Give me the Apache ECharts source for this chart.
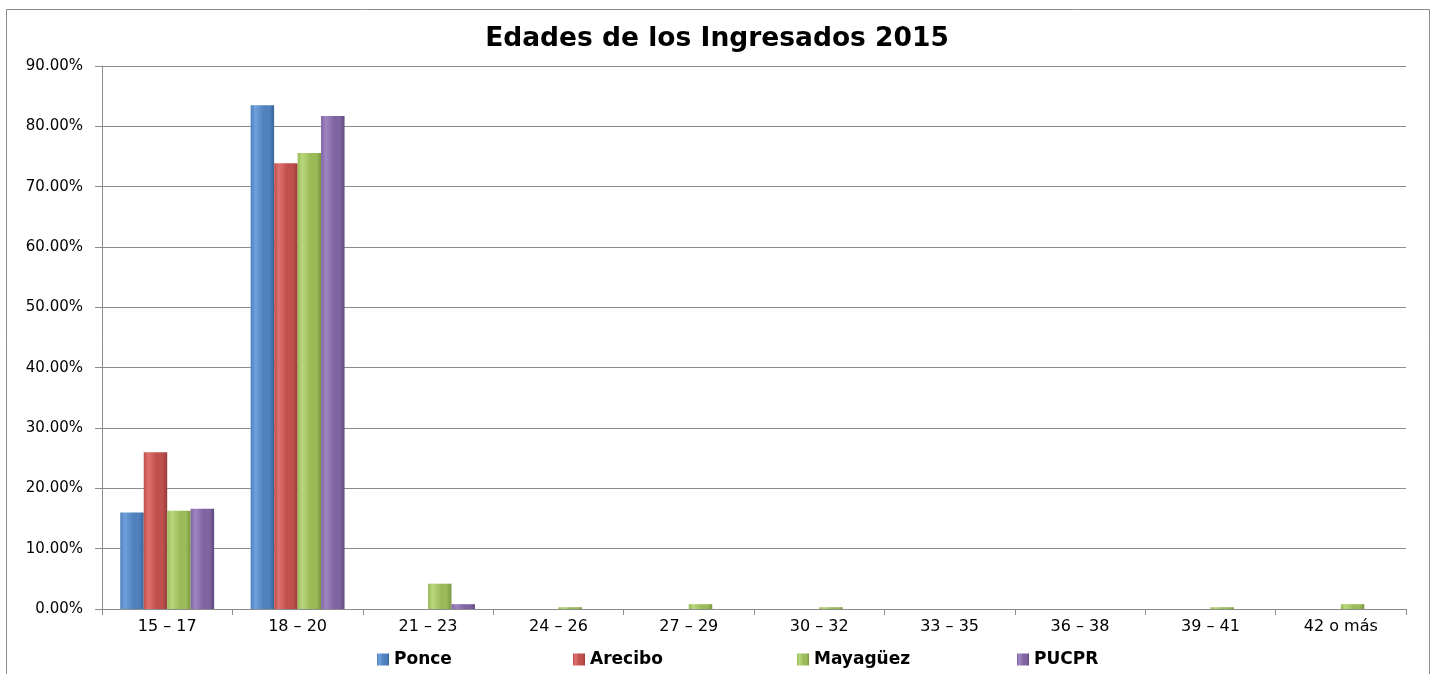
<!DOCTYPE html>
<html><head><meta charset="utf-8">
<script src="https://cdn.jsdelivr.net/npm/echarts@6/dist/echarts.min.js"></script>
<style>html,body{margin:0;padding:0;background:#fff}#c{width:1434px;height:674px}</style>
</head><body><div id="c"></div>
<script>
const categories = ['15 – 17','18 – 20','21 – 23','24 – 26','27 – 29','30 – 32','33 – 35','36 – 38','39 – 41','42 o más'];
const ponce    = [16.0, 83.5, 0, 0, 0, 0, 0, 0, 0, 0];
const arecibo  = [26.0, 73.9, 0, 0, 0, 0, 0, 0, 0, 0];
const mayaguez = [16.3, 75.6, 4.2, 0.3, 0.8, 0.3, 0, 0, 0.3, 0.8];
const pucpr    = [16.6, 81.7, 0.8, 0, 0, 0, 0, 0, 0, 0];
const seriesNames = ['Ponce','Arecibo','Mayagüez','PUCPR'];

const palette = [
  ['#6fa0dc','#4f81bd','#3a6597'],
  ['#de706d','#c0504d','#983b39'],
  ['#b8d77c','#9bbb59','#7a9640'],
  ['#9e86c1','#8064a2','#5f4a7d']
];
function grad(p){
  return {type:'linear',x:0,y:0,x2:1,y2:0,colorStops:[
    {offset:0,color:p[1]},{offset:0.2,color:p[0]},{offset:0.55,color:p[1]},{offset:0.8,color:p[1]},{offset:1,color:p[2]}]};
}
const dataSets = [ponce, arecibo, mayaguez, pucpr];
const legendLeft = [372, 568, 792, 1012];
const font = '"DejaVu Sans", Verdana, sans-serif';

const chart = echarts.init(document.getElementById('c'), null, {renderer:'canvas'});
chart.setOption({
  animation:false,
  title:{text:'Edades de los Ingresados 2015', left:'center', top:21,
    textStyle:{fontFamily:font, fontWeight:'bold', fontSize:26.5, color:'#000'}},
  legend: seriesNames.map((n,i)=>({data:[n], left:legendLeft[i], top:646, itemWidth:12, itemHeight:12, itemGap:0,
    icon:'rect', textStyle:{fontFamily:font, fontWeight:'bold', fontSize:17, color:'#000'}})),
  graphic:[{type:'rect', shape:{x:6.5,y:9.5,width:1423,height:680}, style:{fill:'none', stroke:'#8c8c8c', lineWidth:1}, silent:true}],
  grid:{left:102, right:28, top:66, bottom:65},
  xAxis:{type:'category', data:categories,
    axisLine:{lineStyle:{color:'#8c8c8c'}},
    axisTick:{show:true, length:6, lineStyle:{color:'#8c8c8c'}},
    axisLabel:{fontFamily:font, fontSize:16, color:'#000', margin:10}},
  yAxis:{type:'value', min:0, max:90, interval:10,
    axisLine:{show:true, lineStyle:{color:'#8c8c8c'}},
    axisTick:{show:true, length:7, lineStyle:{color:'#8c8c8c'}},
    splitLine:{lineStyle:{color:'#8c8c8c'}},
    axisLabel:{fontFamily:font, fontSize:15, color:'#000', margin:19, formatter:v=>v.toFixed(2)+'%'}},
  series: dataSets.map((d,i)=>({
    name:seriesNames[i], type:'bar', data:d, barGap:'0%', barCategoryGap:'28%',
    itemStyle:{color:grad(palette[i]), borderWidth:0}
  }))
});
</script></body></html>
